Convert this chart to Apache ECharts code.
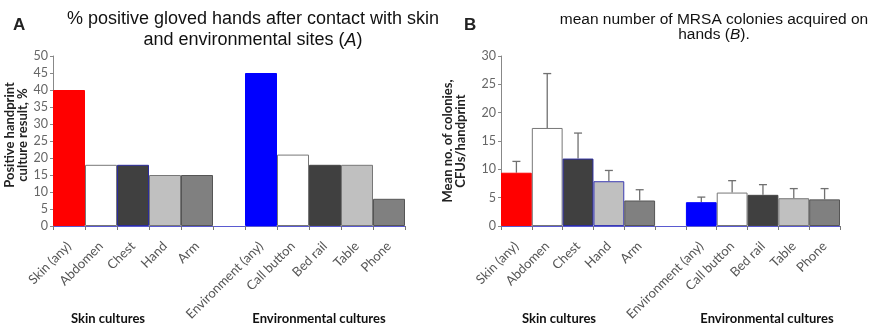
<!DOCTYPE html>
<html>
<head>
<meta charset="utf-8">
<script src="https://cdn.jsdelivr.net/npm/echarts@6/dist/echarts.min.js"></script>
<style>
  html, body { margin: 0; padding: 0; background: #ffffff; }
  #chart { width: 874px; height: 331px; }
</style>
</head>
<body>
<div id="chart"></div>
<script>
// Culture sites; an empty slot separates the skin and environment groups
const skinSites = ['Skin (any)', 'Abdomen', 'Chest', 'Hand', 'Arm'];
const envSites = ['Environment (any)', 'Call button', 'Bed rail', 'Table', 'Phone'];
const categories = [...skinSites, '', ...envSites];

// Panel A: positive handprint culture result, %
const positivePct = [40, 18, 18, 15, 15, null, 45, 21, 18, 18, 8];

// Panel B: mean no. of colonies (CFUs/handprint) and upper error
const meanCfu = [9.4, 17.3, 11.9, 7.9, 4.5, null, 4.2, 5.9, 5.5, 4.9, 4.7];
const cfuError = [2.0, 9.6, 4.5, 1.9, 1.9, null, 0.9, 2.1, 1.8, 1.7, 1.9];

// Value axis ranges
const axisA = { min: 0, max: 50, interval: 5 };
const axisB = { min: 0, max: 30, interval: 5 };

// Bar fills per slot
const fills = ['#ff0000', '#ffffff', '#404040', '#c0c0c0', '#808080', null,
               '#0000ff', '#ffffff', '#404040', '#c0c0c0', '#808080'];
const bordersA = ['#ff0000', '#777777', '#2b2b9c', '#777777', '#555555', null,
                  '#0000ff', '#777777', '#444444', '#777777', '#555555'];
const bordersB = ['#ff0000', '#777777', '#2b2b9c', '#3a3ab0', '#555555', null,
                  '#0000ff', '#777777', '#444444', '#777777', '#555555'];

const chart = echarts.init(document.getElementById('chart'), null, { renderer: 'canvas' });

function barItems(values, borders) {
  return values.map((v, i) => v == null ? '-' : {
    value: v,
    itemStyle: { color: fills[i], borderColor: borders[i], borderWidth: 1 }
  });
}

const errData = [];
meanCfu.forEach((m, i) => {
  if (m != null) errData.push([i, m, cfuError[i]]);
});

const bodyFont = 'Lato, "Open Sans", sans-serif';
const titleFont = 'Liberation Sans, Arial, sans-serif';

function xAxisCfg(gridIndex) {
  return {
    type: 'category',
    gridIndex,
    data: categories,
    boundaryGap: true,
    axisLine: { lineStyle: { color: '#5a5ad0', width: 1 } },
    axisTick: { show: true, inside: false, length: 4, lineStyle: { color: '#777777' } },
    axisLabel: {
      interval: 0,
      rotate: 45,
      margin: 18,
      color: '#555555',
      fontFamily: bodyFont,
      fontSize: 13
    },
    splitLine: { show: false }
  };
}

function yAxisCfg(gridIndex, range, name, gap, shift) {
  return {
    type: 'value',
    gridIndex,
    ...range,
    name,
    nameLocation: 'middle',
    nameGap: gap,
    nameRotate: 90,
    nameTextStyle: {
      fontFamily: bodyFont,
      fontWeight: 'bold',
      fontSize: 13,
      color: '#222222',
      lineHeight: 12.5,
      padding: [0, 0, 0, shift]
    },
    axisLine: { show: true, lineStyle: { color: '#888888' } },
    axisTick: { show: true, inside: false, length: 3, lineStyle: { color: '#888888' } },
    axisLabel: { margin: 5, color: '#666666', fontFamily: bodyFont, fontSize: 12.5 },
    splitLine: { show: false }
  };
}

function groupLabel(text, x) {
  return {
    type: 'text', x, y: 312,
    style: { text, font: 'bold 13px Lato, sans-serif', fill: '#111111', align: 'center', verticalAlign: 'top' }
  };
}

chart.setOption({
  animation: false,
  backgroundColor: '#ffffff',
  title: [
    {
      text: '% positive gloved hands after contact with skin\nand environmental sites ({i|A})',
      left: 248, top: 4, textAlign: 'center',
      textStyle: {
        fontFamily: titleFont, fontSize: 18, fontWeight: 'normal', color: '#111111', lineHeight: 21,
        rich: { i: { fontFamily: titleFont, fontSize: 18, fontStyle: 'italic', color: '#111111', lineHeight: 21 } }
      }
    },
    {
      text: 'mean number of MRSA colonies acquired on\nhands ({i|B}).',
      left: 709, top: 7, textAlign: 'center',
      textStyle: {
        fontFamily: titleFont, fontSize: 15.5, fontWeight: 'normal', color: '#111111', lineHeight: 15,
        rich: { i: { fontFamily: titleFont, fontSize: 15.5, fontStyle: 'italic', color: '#111111', lineHeight: 15 } }
      }
    },
    {
      text: 'A', left: 8, top: 12,
      textStyle: { fontFamily: titleFont, fontSize: 17, fontWeight: 'bold', color: '#222222' }
    },
    {
      text: 'B', left: 459, top: 12,
      textStyle: { fontFamily: titleFont, fontSize: 17, fontWeight: 'bold', color: '#222222' }
    }
  ],
  grid: [
    { left: 53, top: 56, width: 352, height: 170 },
    { left: 501, top: 56, width: 339, height: 170 }
  ],
  xAxis: [xAxisCfg(0), xAxisCfg(1)],
  yAxis: [
    yAxisCfg(0, axisA, 'Positive handprint\nculture result, %', 24, 12),
    yAxisCfg(1, axisB, 'Mean no. of colonies,\nCFUs/handprint', 34, 0)
  ],
  graphic: [
    groupLabel('Skin cultures', 108),
    groupLabel('Environmental cultures', 319),
    groupLabel('Skin cultures', 559),
    groupLabel('Environmental cultures', 767)
  ],
  series: [
    {
      type: 'bar',
      xAxisIndex: 0, yAxisIndex: 0,
      barWidth: '100%',
      data: barItems(positivePct, bordersA)
    },
    {
      type: 'custom',
      xAxisIndex: 1, yAxisIndex: 1,
      z: 1,
      data: errData,
      renderItem: function (params, api) {
        const idx = api.value(0);
        const m = api.value(1);
        const e = api.value(2);
        const base = api.coord([idx, m]);
        const top = api.coord([idx, m + e]);
        const half = 4;
        const st = { stroke: '#707070', lineWidth: 1.3 };
        return {
          type: 'group',
          children: [
            { type: 'line', shape: { x1: base[0], y1: base[1], x2: top[0], y2: top[1] }, style: st },
            { type: 'line', shape: { x1: top[0] - half, y1: top[1], x2: top[0] + half, y2: top[1] }, style: st }
          ]
        };
      }
    },
    {
      type: 'bar',
      xAxisIndex: 1, yAxisIndex: 1,
      barWidth: '100%',
      z: 2,
      data: barItems(meanCfu, bordersB)
    }
  ]
});
</script>
</body>
</html>
